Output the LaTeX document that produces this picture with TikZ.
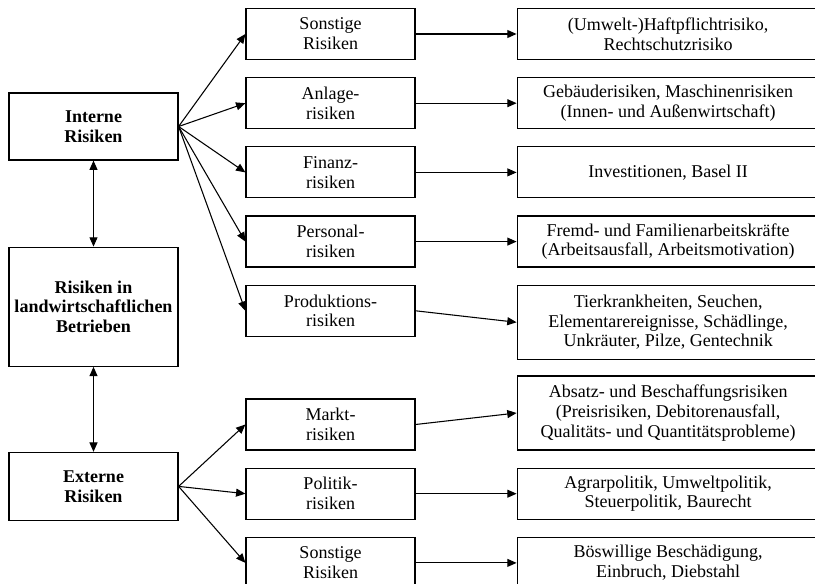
\documentclass[tikz,border=0pt]{standalone}
\usepackage{fontspec}
\setmainfont{Liberation Serif}
\usetikzlibrary{arrows.meta,positioning}

\begin{document}
\begin{tikzpicture}[
      x=0.75pt, y=-0.75pt,
      node distance=12.75pt and 75.75pt,
      box/.style={draw, line width=0.9pt, align=center, inner sep=1pt,
                  font=\fontsize{13.5}{14.8}\selectfont},
      lbox/.style={box, minimum width=126.75pt,
                  font=\fontsize{13.5}{14.8}\selectfont\bfseries},
      mbox/.style={box, minimum width=126.75pt, minimum height=38.25pt},
      rbox/.style={box, minimum width=226.5pt, minimum height=38.25pt},
      arr/.style={-{Triangle[length=7pt, width=6pt]}, line width=0.8pt},
      darr/.style={{Triangle[length=7pt, width=6pt]}-{Triangle[length=7pt, width=6pt]},
                  line width=0.8pt},
    ]
    \useasboundingbox (0,0) rectangle (815,584);

    % left column
    \node[lbox, minimum height=50.25pt] (intern) at (93.5,126.5) {Interne\\Risiken};
    \node[lbox, minimum height=89.25pt, below=64.5pt of intern] (betrieb)
         {Risiken in\\landwirtschaftlichen\\Betrieben};
    \node[lbox, minimum height=51pt, below=63.75pt of betrieb] (extern) {Externe\\Risiken};

    % middle column: risk groups
    \node[mbox] (sonst1) at (330.5,34) {Sonstige\\Risiken};
    \node[mbox, below=of sonst1]   (anlage)   {Anlage-\\risiken};
    \node[mbox, below=of anlage]   (finanz)   {Finanz-\\risiken};
    \node[mbox, below=of finanz]   (personal) {Personal-\\risiken};
    \node[mbox, below=of personal] (prod)     {Produktions-\\risiken};
    \node[mbox] (markt) at (330.5,424.5) {Markt-\\risiken};
    \node[mbox, below=of markt]    (politik)  {Politik-\\risiken};
    \node[mbox, below=of politik]  (sonst2)   {Sonstige\\Risiken};

    % right column: examples
    \node[rbox, right=of sonst1]   (haft)     {(Umwelt-)Haftpflichtrisiko,\\Rechtschutzrisiko};
    \node[rbox, right=of anlage]   (gebaeude) {Gebäuderisiken, Maschinenrisiken\\(Innen- und Außenwirtschaft)};
    \node[rbox, right=of finanz]   (invest)   {Investitionen, Basel II};
    \node[rbox, right=of personal] (arbeit)   {Fremd- und Familienarbeitskräfte\\(Arbeitsausfall, Arbeitsmotivation)};
    \node[rbox, minimum height=55.5pt, right=of prod.north east, anchor=north west] (tier)
         {Tierkrankheiten, Seuchen,\\Elementarereignisse, Schädlinge,\\Unkräuter, Pilze, Gentechnik};
    \node[rbox, minimum height=55.5pt, right=of markt.south east, anchor=south west] (absatz)
         {Absatz- und Beschaffungsrisiken\\(Preisrisiken, Debitorenausfall,\\Qualitäts- und Quantitätsprobleme)};
    \node[rbox, right=of politik]  (agrar)    {Agrarpolitik, Umweltpolitik,\\Steuerpolitik, Baurecht};
    \node[rbox, right=of sonst2]   (boes)     {Böswillige Beschädigung,\\Einbruch, Diebstahl};

    % left column links
    \draw[darr] (intern) -- (betrieb);
    \draw[darr] (betrieb) -- (extern);

    % fan out
    \draw[arr] (intern.east) -- (sonst1.west);
    \draw[arr] (intern.east) -- (anlage.west);
    \draw[arr] (intern.east) -- (finanz.west);
    \draw[arr] (intern.east) -- (personal.west);
    \draw[arr] (intern.east) -- (prod.west);
    \draw[arr] (extern.east) -- (markt.west);
    \draw[arr] (extern.east) -- (politik.west);
    \draw[arr] (extern.east) -- (sonst2.west);

    % groups to examples
    \draw[arr] (sonst1.east)   -- (haft.west);
    \draw[arr] (anlage.east)   -- (gebaeude.west);
    \draw[arr] (finanz.east)   -- (invest.west);
    \draw[arr] (personal.east) -- (arbeit.west);
    \draw[arr] (prod.east)     -- (tier.west);
    \draw[arr] (markt.east)    -- (absatz.west);
    \draw[arr] (politik.east)  -- (agrar.west);
    \draw[arr] (sonst2.east)   -- (boes.west);
  \end{tikzpicture}
\end{document}
